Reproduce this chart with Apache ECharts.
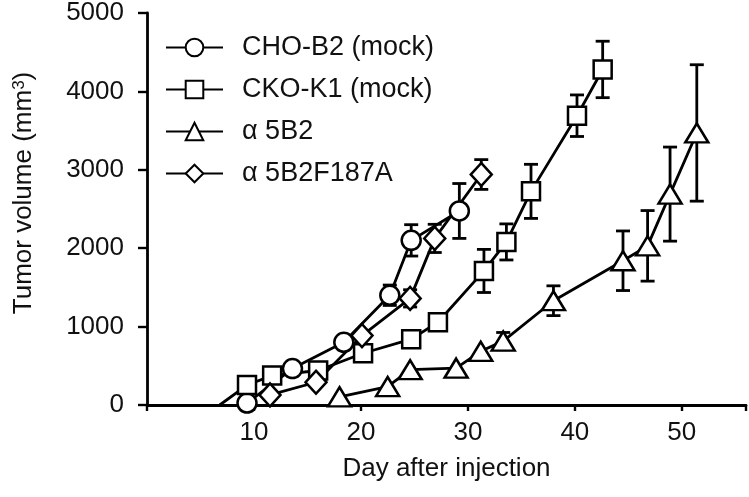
<!DOCTYPE html>
<html>
<head>
<meta charset="utf-8">
<script src="https://cdn.jsdelivr.net/npm/echarts@6/dist/echarts.min.js"></script>
<style>html,body{margin:0;padding:0;background:#fff;}#c{width:749px;height:497px;}</style>
</head>
<body>
<div id="c"></div>
<script>
// Data
var seriesNames = ['CHO-B2 (mock)', 'CKO-K1 (mock)', 'α 5B2', 'α 5B2F187A'];

var choDays = [9.35, 13.6, 18.4, 22.7, 24.7, 29.2];
var choVals = [25, 465, 800, 1400, 2100, 2475];
var choErr  = [0, 0, 0, 130, 200, 350];

var ckoDays = [6.8, 9.35, 11.7, 16.0, 20.2, 24.7, 27.2, 31.5, 33.6, 35.9, 40.2, 42.6];
var ckoVals = [0, 255, 375, 440, 660, 840, 1055, 1710, 2080, 2725, 3690, 4280];
var ckoErr  = [0, 0, 0, 0, 0, 0, 0, 275, 230, 345, 265, 360];

var a5Days = [18.0, 22.5, 24.6, 28.9, 31.2, 33.3, 38.0, 44.5, 46.8, 48.9, 51.4];
var a5Vals = [105, 235, 450, 470, 685, 815, 1330, 1840, 2030, 2690, 3470];
var a5Err  = [0, 0, 0, 0, 0, 110, 190, 380, 450, 600, 870];

var a5fDays = [11.5, 15.8, 20.1, 24.6, 26.9, 31.25];
var a5fVals = [128, 290, 885, 1360, 2125, 2940];
var a5fErr  = [0, 0, 0, 110, 180, 190];

var xTicks = [10, 20, 30, 40, 50];
var yTicks = [0, 1000, 2000, 3000, 4000, 5000];

var FONT = 'Liberation Sans, Arial, Helvetica, sans-serif';

function pairs(days, vals, hideFirst) {
  return days.map(function (d, i) {
    if (hideFirst && i === 0) return { value: [d, vals[i]], symbol: 'none' };
    return [d, vals[i]];
  });
}
function errPairs(days, vals, errs) {
  var out = [];
  for (var i = 0; i < days.length; i++) if (errs[i] > 0) out.push([days[i], vals[i], errs[i]]);
  return out;
}
function renderErr(params, api) {
  var x = api.value(0), y = api.value(1), e = api.value(2);
  var t = api.coord([x, y + e]), b = api.coord([x, y - e]);
  var hw = 7;
  var st = { stroke: '#000', lineWidth: 2.8, fill: null };
  return {
    type: 'group',
    children: [
      { type: 'line', shape: { x1: t[0], y1: t[1], x2: b[0], y2: b[1] }, style: st },
      { type: 'line', shape: { x1: t[0] - hw, y1: t[1], x2: t[0] + hw, y2: t[1] }, style: st },
      { type: 'line', shape: { x1: b[0] - hw, y1: b[1], x2: b[0] + hw, y2: b[1] }, style: st }
    ]
  };
}
function lineSeries(name, data, symbol, size) {
  return {
    name: name, type: 'line', data: data, symbol: symbol, symbolSize: size,
    showAllSymbol: true, z: 3,
    lineStyle: { color: '#000', width: 2.8 },
    itemStyle: { color: '#fff', borderColor: '#000', borderWidth: 2.5 },
    emphasis: { disabled: true }, animation: false
  };
}
function errSeries(data) {
  return { type: 'custom', renderItem: renderErr, data: data, encode: { x: 0, y: 1 }, z: 2, silent: true, animation: false };
}

var chart = echarts.init(document.getElementById('c'), null, { renderer: 'canvas' });
chart.setOption({
  animation: false,
  backgroundColor: '#fff',
  textStyle: { fontFamily: FONT },
  grid: { left: 147, right: 2, top: 13, bottom: 92, containLabel: false },
  legend: {
    data: seriesNames,
    orient: 'vertical',
    left: 160, top: 29,
    itemWidth: 57, itemHeight: 22, itemGap: 15,
    textStyle: { fontSize: 27, color: '#111', fontFamily: FONT, padding: [0, 0, 0, 14] },
    selectedMode: false
  },
  xAxis: {
    type: 'value', min: 0, max: 56, interval: 10,
    name: 'Day after injection', nameLocation: 'middle', nameGap: 51,
    nameTextStyle: { fontSize: 26, color: '#111', fontFamily: FONT },
    axisLine: { lineStyle: { color: '#000', width: 2.8 } },
    axisTick: { show: true, length: 6, lineStyle: { color: '#000', width: 2.4 } },
    axisLabel: {
      fontSize: 26, color: '#111', margin: 15, fontFamily: FONT,
      formatter: function (v) { return xTicks.indexOf(v) >= 0 ? String(v) : ''; }
    },
    splitLine: { show: false }
  },
  yAxis: {
    type: 'value', min: 0, max: 5000, interval: 1000,
    name: 'Tumor volume (mm{sup|3})', nameLocation: 'middle', nameGap: 110, nameRotate: 90,
    nameTextStyle: {
      fontSize: 26, color: '#111', fontFamily: FONT, padding: [0, 0, 0, 32],
      rich: { sup: { fontSize: 17, color: '#111', fontFamily: FONT, verticalAlign: 'top' } }
    },
    axisLine: { show: true, lineStyle: { color: '#000', width: 2.8 } },
    axisTick: { show: true, length: 9, lineStyle: { color: '#000', width: 2.4 } },
    axisLabel: {
      fontSize: 26, color: '#111', margin: 23, fontFamily: FONT,
      formatter: function (v) { return yTicks.indexOf(v) >= 0 ? String(v) : ''; }
    },
    splitLine: { show: false }
  },
  series: [
    errSeries(errPairs(choDays, choVals, choErr)),
    errSeries(errPairs(ckoDays, ckoVals, ckoErr)),
    errSeries(errPairs(a5Days, a5Vals, a5Err)),
    errSeries(errPairs(a5fDays, a5fVals, a5fErr)),
    lineSeries(seriesNames[0], pairs(choDays, choVals), 'circle', 19),
    lineSeries(seriesNames[1], pairs(ckoDays, ckoVals, true), 'rect', 18),
    lineSeries(seriesNames[2], pairs(a5Days, a5Vals), 'triangle', [23, 19]),
    lineSeries(seriesNames[3], pairs(a5fDays, a5fVals), 'diamond', [21, 23])
  ]
});
</script>
</body>
</html>
